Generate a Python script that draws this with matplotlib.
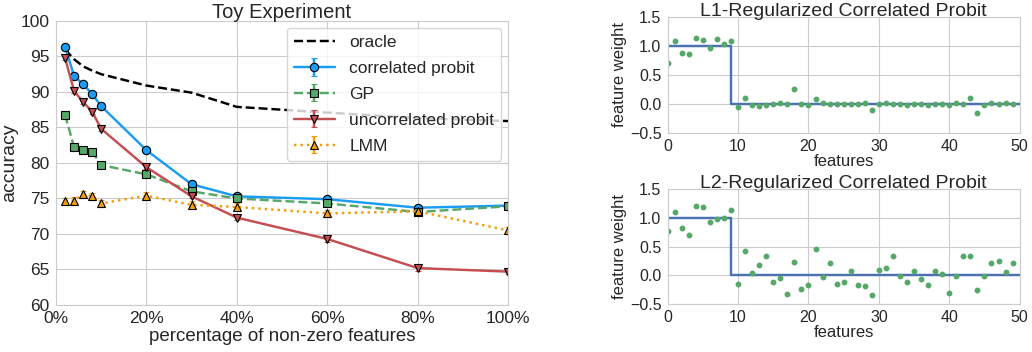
import numpy as np
import matplotlib
matplotlib.use("Agg")
import matplotlib.pyplot as plt
import seaborn as sns
from matplotlib.ticker import FuncFormatter

sns.set_style("whitegrid")
plt.rcParams['font.family'] = ['Liberation Sans', 'DejaVu Sans']

# toy experiment
pct = [0.02, 0.04, 0.06, 0.08, 0.10, 0.20, 0.30, 0.40, 0.60, 0.80, 1.00]
oracle = [96.0, 94.6, 93.6, 93.0, 92.5, 90.9, 89.9, 87.9, 87.1, 86.3, 85.9]
corr_probit = [96.4, 92.2, 91.1, 89.7, 88.0, 81.8, 77.0, 75.3, 74.9, 73.7, 74.0]
gp = [86.8, 82.2, 81.8, 81.6, 79.7, 78.4, 76.0, 75.0, 74.3, 73.1, 73.9]
uncorr_probit = [94.8, 90.1, 88.6, 87.2, 84.8, 79.4, 75.3, 72.3, 69.3, 65.2, 64.7]
lmm = [74.6, 74.7, 75.6, 75.3, 74.3, 75.4, 74.1, 73.8, 72.9, 73.2, 70.5]
corr_err = [0.3, 0.3, 0.3, 0.3, 0.3, 0.3, 0.3, 0.3, 0.3, 0.3, 0.3]
gp_err = [0.3, 0.3, 0.3, 0.3, 0.3, 0.3, 0.3, 0.3, 0.3, 0.3, 0.3]
uncorr_err = [0.3, 0.3, 0.3, 0.3, 0.3, 0.3, 0.3, 0.3, 0.4, 0.4, 0.4]
lmm_err = [0.5, 0.5, 0.5, 0.5, 0.5, 0.5, 0.5, 0.5, 0.5, 0.5, 0.5]

# feature weights
true_w = [1.0] * 10 + [0.0] * 41
l1_w = [0.70, 1.08, 0.87, 0.86, 1.14, 1.10, 0.97, 1.12, 1.04, 1.08,
        -0.05, 0.11, -0.02, -0.03, -0.01, 0.0, 0.01, 0.0, 0.26, 0.0,
        -0.01, 0.09, 0.01, 0.0, 0.0, 0.0, 0.0, 0.0, 0.01, -0.11,
        0.0, 0.01, 0.0, 0.0, -0.01, 0.0, 0.0, -0.02, 0.0, 0.0,
        -0.01, 0.01, 0.0, 0.10, -0.15, -0.01, 0.01, 0.0, 0.01, 0.0]
l2_w = [0.77, 1.10, 0.83, 0.70, 1.21, 1.18, 0.93, 0.98, 0.99, 1.13,
        -0.15, 0.42, 0.04, 0.18, 0.34, -0.11, -0.05, -0.32, 0.24, -0.23,
        -0.17, 0.46, -0.03, 0.22, -0.15, -0.12, 0.07, -0.17, -0.18, -0.34,
        0.10, 0.12, 0.33, -0.01, -0.12, 0.08, -0.06, -0.16, 0.07, 0.02,
        -0.30, -0.01, 0.33, 0.34, -0.26, -0.01, 0.21, 0.25, 0.05, 0.21]

fig = plt.figure(figsize=(10.32, 3.52), dpi=100)

ax = fig.add_axes([0.0543, 0.1335, 0.438, 0.807])
ax.plot(pct, oracle, color='black', ls='--', lw=1.75, label='oracle')
ax.errorbar(pct, corr_probit, yerr=corr_err, color='#1a9cf5', ls='-', lw=1.75,
            marker='o', ms=6, mfc='#1a9cf5', mec='black', mew=0.8, capsize=2,
            label='correlated probit')
ax.errorbar(pct, gp, yerr=gp_err, color='#55A868', ls='--', lw=1.75,
            marker='s', ms=6, mfc='#55A868', mec='black', mew=0.8, capsize=2,
            label='GP')
ax.errorbar(pct, uncorr_probit, yerr=uncorr_err, color='#C44E52', ls='-', lw=1.75,
            marker='v', ms=6, mfc='#C44E52', mec='black', mew=0.8, capsize=2,
            label='uncorrelated probit')
ax.errorbar(pct, lmm, yerr=lmm_err, color='#F29D0B', ls=':', lw=1.75,
            marker='^', ms=6, mfc='#F29D0B', mec='black', mew=0.8, capsize=2,
            label='LMM')
ax.set_xlim(0, 1)
ax.set_ylim(60, 100)
ax.set_yticks(np.arange(60, 101, 5))
ax.xaxis.set_major_formatter(FuncFormatter(lambda v, p: '%d%%' % round(v * 100)))
ax.tick_params(labelsize=12.5, pad=1)
ax.set_xlabel('percentage of non-zero features', fontsize=13.5, labelpad=1)
ax.set_ylabel('accuracy', fontsize=14, labelpad=2)
ax.set_title('Toy Experiment', fontsize=14.5, pad=2)
ax.legend(loc='upper right', fontsize=12.5, frameon=True, borderaxespad=0.4,
          handlelength=2.4, labelspacing=0.62)

feat = np.arange(50)
feat_line = np.arange(51)
for pos, w, title in [([0.647, 0.622, 0.341, 0.330], l1_w, 'L1-Regularized Correlated Probit'),
                      ([0.647, 0.136, 0.341, 0.327], l2_w, 'L2-Regularized Correlated Probit')]:
    a = fig.add_axes(pos)
    a.step(feat_line, true_w, where='pre', color='#4C72B0', lw=1.75)
    a.plot(feat, w, 'o', color='#55A868', ms=3.2)
    a.set_xlim(0, 50)
    a.set_ylim(-0.5, 1.5)
    a.set_yticks([-0.5, 0, 0.5, 1.0, 1.5])
    a.tick_params(labelsize=11.5, pad=1)
    a.set_xlabel('features', fontsize=12, labelpad=0)
    a.set_ylabel('feature weight', fontsize=12, labelpad=2)
    a.set_title(title, fontsize=14, pad=1)

fig.savefig('out.png', dpi=100)
